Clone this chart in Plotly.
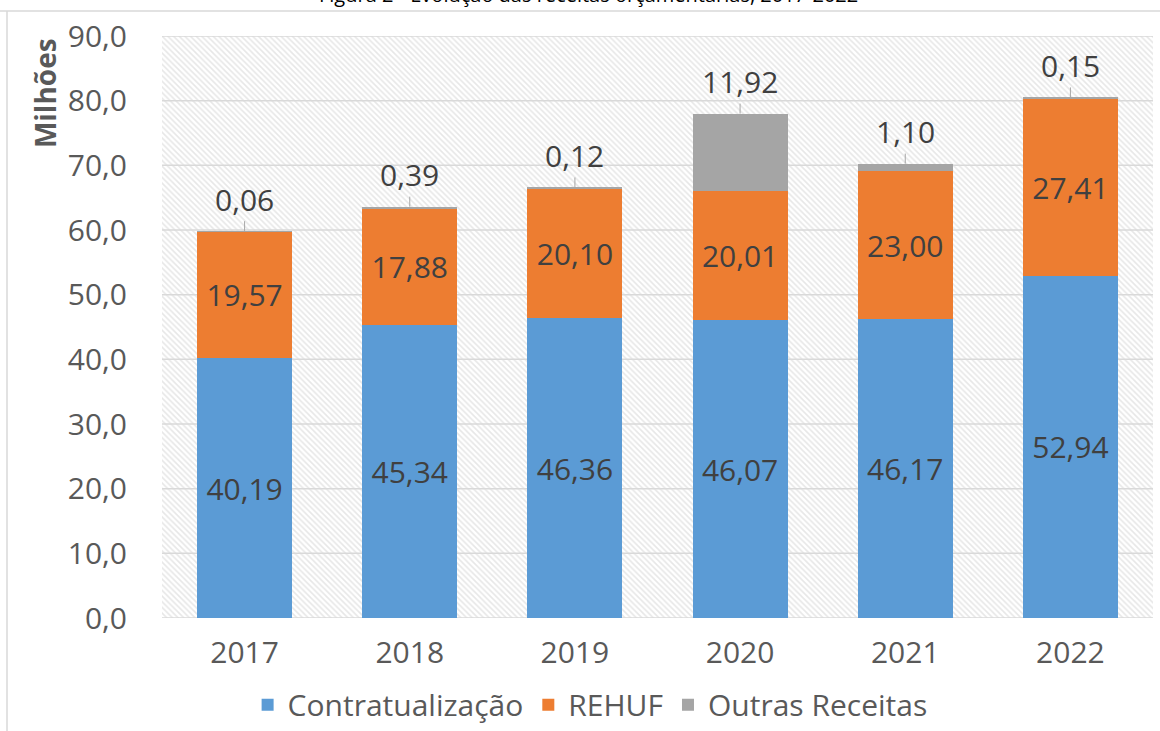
import plotly.graph_objects as go

years = ["2017", "2018", "2019", "2020", "2021", "2022"]
contratualizacao = [40.19, 45.34, 46.36, 46.07, 46.17, 52.94]
rehuf = [19.57, 17.88, 20.10, 20.01, 23.00, 27.41]
outras = [0.06, 0.39, 0.12, 11.92, 1.10, 0.15]
y_ticks = [0, 10, 20, 30, 40, 50, 60, 70, 80, 90]

FONT = "Open Sans"
Y_MAX = 90

fig = go.Figure()

# hatched plot background (first subplot, hidden axes)
fig.add_trace(go.Bar(
    x=[0.5], y=[Y_MAX], width=1, xaxis="x", yaxis="y",
    marker=dict(color="white", line=dict(width=0),
                pattern=dict(shape="\\", fgcolor="#cfcfcf", bgcolor="white",
                             size=4, solidity=0.4)),
    showlegend=False, hoverinfo="skip"))

# gridlines drawn over the hatch
gx, gy = [], []
for v in y_ticks:
    gx += [0, 1, None]
    gy += [v, v, None]
fig.add_trace(go.Scatter(x=gx, y=gy, mode="lines", xaxis="x", yaxis="y",
                         line=dict(color="#d9d9d9", width=1.5),
                         showlegend=False, hoverinfo="skip"))

series = [
    ("Contratualização", contratualizacao, "#5b9bd5", True),
    ("REHUF", rehuf, "#ed7d31", True),
    ("Outras Receitas", outras, "#a5a5a5", False),
]
for name, vals, color, labelled in series:
    fig.add_trace(go.Bar(
        name=name, x=years, y=vals, xaxis="x2", yaxis="y2",
        marker=dict(color=color, line=dict(width=0)),
        texttemplate="%{y:.2f}" if labelled else None,
        textposition="inside" if labelled else "none",
        insidetextanchor="middle", constraintext="none",
        textfont=dict(family=FONT, size=30, color="#404040"),
    ))

# callout labels for "Outras Receitas" (category index positions)
totals = [a + b + c for a, b, c in zip(contratualizacao, rehuf, outras)]
for i, (tot, val) in enumerate(zip(totals, outras)):
    fig.add_annotation(
        x=i, y=tot, xref="x2", yref="y2",
        text=f"{val:.2f}".replace(".", ","),
        showarrow=True, arrowhead=0, arrowwidth=1, arrowcolor="#a6a6a6",
        ax=0, ay=-32, standoff=0,
        font=dict(family=FONT, size=30, color="#404040"))

# y axis title
fig.add_annotation(
    text="<b>Milhões</b>", textangle=-90, xref="paper", yref="paper",
    x=-0.118, y=0.902, showarrow=False, xanchor="center", yanchor="middle",
    font=dict(family=FONT, size=28, color="#595959"))

# (cropped) figure title
fig.add_annotation(
    text="Figura 2 - Evolução das receitas orçamentárias, 2017-2022",
    xref="paper", yref="paper", x=0.43, y=1.072, showarrow=False,
    xanchor="center", yanchor="middle",
    font=dict(family=FONT, size=20, color="#000000"))

# outer frame lines
fig.add_shape(type="line", xref="paper", yref="paper",
              x0=-0.1564, x1=-0.1564, y0=1.043, y1=-0.25,
              line=dict(color="#d9d9d9", width=1.5))
fig.add_shape(type="line", xref="paper", yref="paper",
              x0=-0.17, x1=1.02, y0=1.043, y1=1.043,
              line=dict(color="#d9d9d9", width=1.5))

fig.update_layout(
    width=1160, height=731,
    margin=dict(l=162, r=7, t=36, b=113, autoexpand=False),
    paper_bgcolor="white", plot_bgcolor="rgba(0,0,0,0)",
    separators=", ",
    barmode="stack", bargap=0.425,
    font=dict(family=FONT, color="#595959"),
    xaxis=dict(domain=[0, 1], anchor="y", range=[0, 1], visible=False,
               fixedrange=True),
    yaxis=dict(domain=[0, 1], anchor="x", range=[0, Y_MAX], visible=False,
               fixedrange=True),
    xaxis2=dict(domain=[0, 1], anchor="y2", side="bottom", type="category",
                categoryorder="array", categoryarray=years,
                range=[-0.5, len(years) - 0.5],
                showgrid=False, showline=False, zeroline=False, ticks="",
                tickfont=dict(family=FONT, size=30, color="#595959"),
                ticklabelstandoff=14),
    yaxis2=dict(domain=[0, 1], anchor="x2", side="left", range=[0, Y_MAX],
                tickvals=y_ticks, tickformat=".1f", showgrid=False,
                zeroline=False, showline=False, ticks="",
                tickfont=dict(family=FONT, size=30, color="#595959"),
                ticklabelstandoff=34),
    legend=dict(orientation="h", x=0.432, xanchor="center", y=-0.149,
                yanchor="middle", font=dict(family=FONT, size=30, color="#595959"),
                traceorder="normal"),
    showlegend=True,
)

fig.write_html("out.html")
